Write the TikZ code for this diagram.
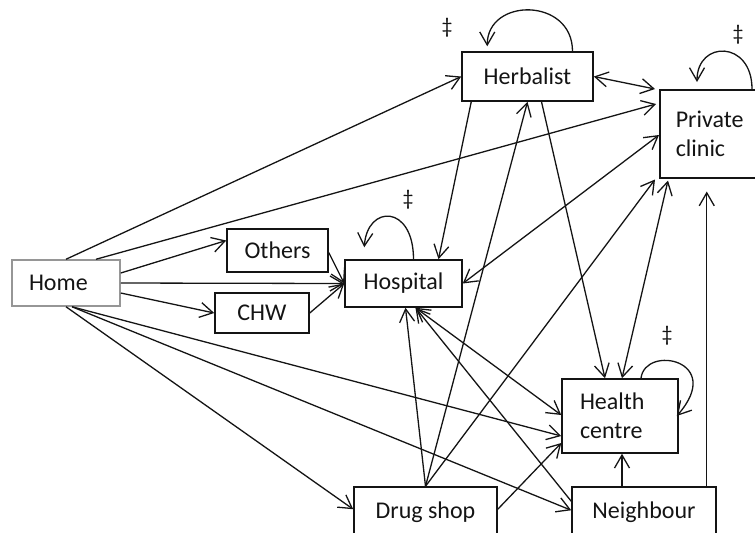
\documentclass[tikz,border=0pt]{standalone}
\usepackage{fontspec}
\setmainfont{Carlito}
\usetikzlibrary{arrows.meta,calc}
\definecolor{lineColor}{RGB}{20,20,20}
\definecolor{homeGray}{RGB}{150,150,150}

\begin{document}
\begin{tikzpicture}[
  x=0.5pt, y=-0.5pt,
  font=\fontsize{12}{14.5}\selectfont,
  place/.style={draw=lineColor, line width=0.75pt, inner sep=0pt, align=center, text=lineColor},
  multi/.style={place, align=left},
  loopmark/.style={font=\fontsize{11}{13}\selectfont, text=lineColor},
  arrow/.style={-{Straight Barb[length=6.5pt,width=7.5pt]}, line width=0.65pt, draw=lineColor},
  biarrow/.style={{Straight Barb[length=6.5pt,width=7.5pt]}-{Straight Barb[length=6.5pt,width=7.5pt]}, line width=0.65pt, draw=lineColor}
]
\useasboundingbox (0,0) rectangle (755,532);
\clip (0,0) rectangle (755,532);

% ------------------------------------------------------------------
% Places of care
% ------------------------------------------------------------------
\node[multi, draw=homeGray, text width=37pt, inner xsep=8.5pt, minimum height=23pt] (home) at (66,283) {Home};
\node[place, minimum width=50.5pt, minimum height=21.5pt] (oth) at (277.5,250.5) {Others};
\node[place, minimum width=47pt, minimum height=20pt] (chw) at (262,313) {CHW};
\node[place, minimum width=58.5pt, minimum height=23.5pt] (hosp) at (403.5,283.5) {Hospital};
\node[place, minimum width=65.5pt, minimum height=24.5pt] (herb) at (527.5,76.5) {Herbalist};
\node[multi, text width=48pt, inner xsep=8pt, minimum height=44pt, anchor=north west] (pc) at (659,89) {Private\\clinic};
\node[multi, text width=40pt, inner xsep=9pt, minimum height=37pt] (hc) at (620,416) {Health\\centre};
\node[place, minimum width=71.5pt, minimum height=25pt] (drug) at (425.5,512) {Drug shop};
\node[place, minimum width=72pt, minimum height=25pt] (nbr) at (644,512) {Neighbour};

% ------------------------------------------------------------------
% Repeated visits
% ------------------------------------------------------------------
\node[loopmark] (herbmark) at (447,28) {\ddag};
\node[loopmark] (pcmark) at (738,35) {\ddag};
\node[loopmark] (hospmark) at (408,200) {\ddag};
\node[loopmark] (hcmark) at (667,336) {\ddag};

\draw[arrow] ($(herb.north)+(45,0)$) .. controls +(0,-54) and +(0,-49) .. ($(herb.north west)+(26,-5)$);
\draw[arrow] ($(pc.north west)+(93,0)$) .. controls +(0,-49) and +(0,-42) .. ($(pc.north west)+(38,-7)$);
\draw[arrow] ($(hosp.north)+(10,0)$) .. controls +(0,-55) and +(3,-43) .. ($(hosp.north west)+(20,-12)$);
\draw[arrow] ($(hc.north)+(21,0)$) .. controls +(4,-34) and +(49,-56) .. ($(hc.east)+(-2,0)$);

% ------------------------------------------------------------------
% From home
% ------------------------------------------------------------------
\draw[arrow] (home.north) -- (herb.west);
\draw[arrow] ($(home.north)+(30,0)$) -- ($(pc.north west)+(-3,15)$);
\draw[arrow] ($(home.east)+(0,-10)$) -- ($(oth.west)+(0,-10)$);
\draw[arrow] (home.east) -- (hosp.west);
\draw[arrow] ($(home.east)+(0,10)$) -- (chw.west);
\draw[arrow] (home.south) -- ($(drug.north west)+(0,23)$);
\draw[arrow] ($(home.south)+(6,0)$) -- ($(nbr.north west)+(0,24)$);
\draw[arrow] ($(home.south)+(6,0)$) -- ($(hc.west)+(0,20)$);

% ------------------------------------------------------------------
% Between providers
% ------------------------------------------------------------------
\draw[arrow] ($(oth.east)+(0,2)$) -- (hosp.west);
\draw[arrow] (chw.east) -- (hosp.west);
\draw[arrow] ($(herb.south west)+(10,0)$) -- ($(hosp.north)+(35,0)$);
\draw[arrow] ($(herb.south)+(14,0)$) -- ($(hc.north)+(-15,0)$);
\draw[biarrow] (herb.east) -- ($(pc.north west)+(-4,0)$);
\draw[biarrow] (hosp.east) -- ($(pc.north west)+(0,46)$);
\draw[biarrow] ($(hc.north)+(2,0)$) -- ($(pc.south west)+(9,2)$);
\draw[biarrow] ($(hosp.south)+(12,0)$) -- ($(hc.west)+(0,-1)$);

\draw[arrow] (drug.north) -- ($(hosp.south)+(2,0)$);
\draw[arrow] (drug.north) -- (herb.south);
\draw[arrow] (drug.north) -- ($(pc.south west)+(-4,1)$);
\draw[arrow] ($(drug.north east)+(0,23)$) -- ($(hc.west)+(0,27)$);

\draw[arrow] ($(nbr.north west)+(0,15)$) -- ($(hosp.south)+(12,0)$);
\draw[arrow] ($(nbr.north)+(-22,0)$) coordinate (nbrA) -- (nbrA |- hc.south);
\draw[arrow, shorten >=6.5pt] ($(nbr.north east)+(-10,0)$) coordinate (nbrB) -- (nbrB |- pc.south);

\end{tikzpicture}
\end{document}
